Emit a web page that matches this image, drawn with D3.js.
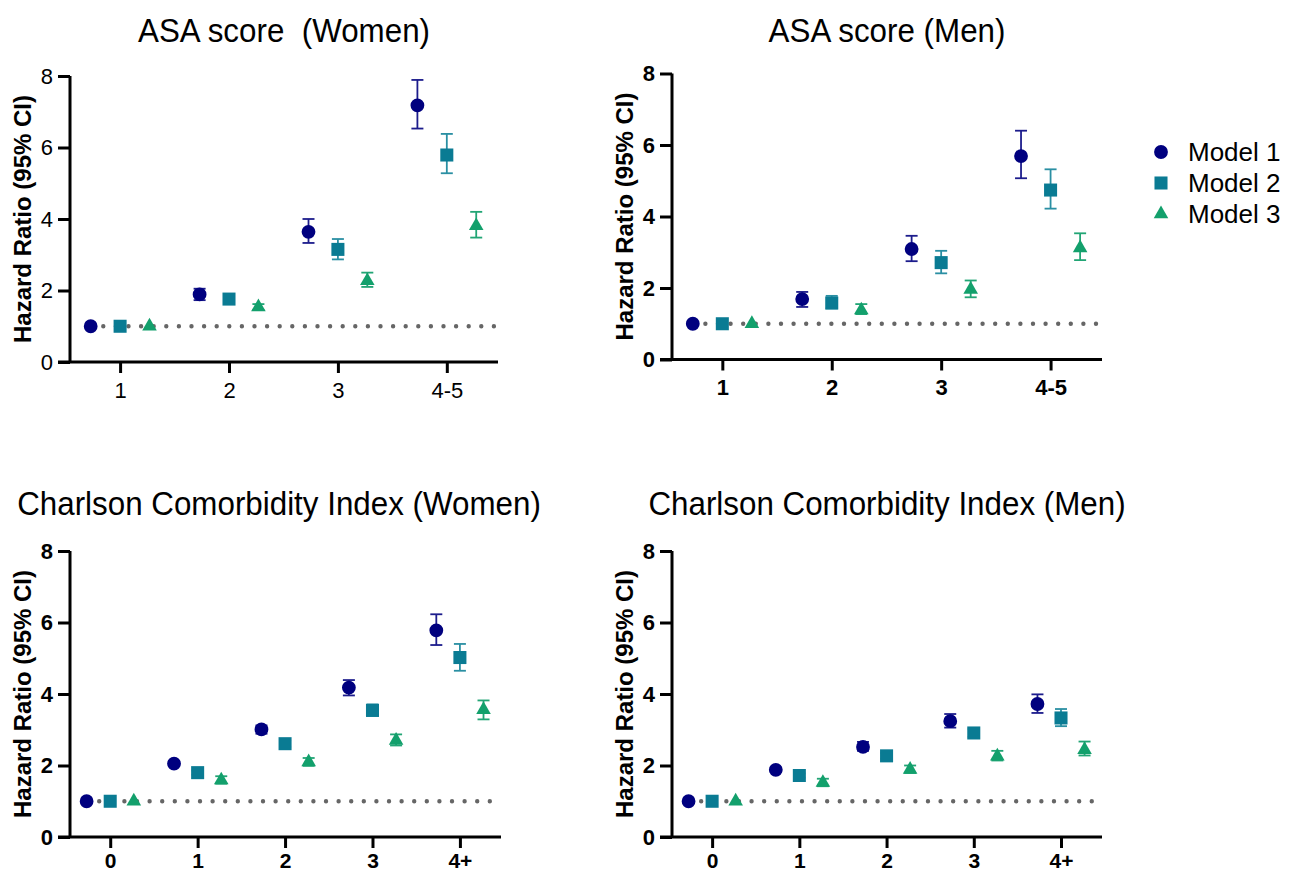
<!DOCTYPE html>
<html>
<head>
<meta charset="utf-8">
<script src="https://cdn.jsdelivr.net/npm/d3@7"></script>
<style>
  body { margin: 0; background: #fff; }
  svg { display: block; font-family: "Liberation Sans", Arial, sans-serif; }
  .title { white-space: pre; }
</style>
</head>
<body>
<svg id="chart" width="1296" height="874"></svg>
<script>
// Category labels
const asaCats = ["1", "2", "3", "4-5"];
const cciCats = ["0", "1", "2", "3", "4+"];

const modelNames = ["Model 1", "Model 2", "Model 3"];

// ASA score, women (hazard ratio, lower and upper 95% CI)
const asaWomenM1 = [1.00, 1.89, 3.64, 7.18];
const asaWomenM1Lo = [1.00, 1.73, 3.33, 6.53];
const asaWomenM1Hi = [1.00, 2.05, 4.00, 7.89];
const asaWomenM2 = [1.00, 1.76, 3.15, 5.79];
const asaWomenM2Lo = [1.00, 1.68, 2.87, 5.28];
const asaWomenM2Hi = [1.00, 1.85, 3.44, 6.38];
const asaWomenM3 = [1.00, 1.54, 2.27, 3.81];
const asaWomenM3Lo = [1.00, 1.46, 2.10, 3.48];
const asaWomenM3Hi = [1.00, 1.62, 2.50, 4.20];

// ASA score, men
const asaMenM1 = [1.00, 1.69, 3.09, 5.69];
const asaMenM1Lo = [1.00, 1.47, 2.75, 5.07];
const asaMenM1Hi = [1.00, 1.89, 3.46, 6.40];
const asaMenM2 = [1.00, 1.58, 2.71, 4.74];
const asaMenM2Lo = [1.00, 1.43, 2.41, 4.22];
const asaMenM2Hi = [1.00, 1.78, 3.04, 5.32];
const asaMenM3 = [1.00, 1.38, 1.96, 3.12];
const asaMenM3Lo = [1.00, 1.27, 1.74, 2.78];
const asaMenM3Hi = [1.00, 1.55, 2.21, 3.53];

// Charlson Comorbidity Index, women
const cciWomenM1 = [1.00, 2.05, 3.01, 4.18, 5.78];
const cciWomenM1Lo = [1.00, 1.98, 2.89, 3.96, 5.37];
const cciWomenM1Hi = [1.00, 2.12, 3.12, 4.39, 6.23];
const cciWomenM2 = [1.00, 1.80, 2.61, 3.54, 5.02];
const cciWomenM2Lo = [1.00, 1.74, 2.52, 3.40, 4.65];
const cciWomenM2Hi = [1.00, 1.86, 2.70, 3.71, 5.40];
const cciWomenM3 = [1.00, 1.59, 2.10, 2.70, 3.56];
const cciWomenM3Lo = [1.00, 1.49, 1.99, 2.56, 3.29];
const cciWomenM3Hi = [1.00, 1.70, 2.21, 2.87, 3.82];

// Charlson Comorbidity Index, men
const cciMenM1 = [1.00, 1.88, 2.52, 3.24, 3.72];
const cciMenM1Lo = [1.00, 1.82, 2.41, 3.06, 3.47];
const cciMenM1Hi = [1.00, 1.94, 2.66, 3.44, 3.99];
const cciMenM2 = [1.00, 1.72, 2.27, 2.91, 3.33];
const cciMenM2Lo = [1.00, 1.66, 2.19, 2.80, 3.10];
const cciMenM2Hi = [1.00, 1.78, 2.35, 3.02, 3.58];
const cciMenM3 = [1.00, 1.52, 1.89, 2.26, 2.44];
const cciMenM3Lo = [1.00, 1.42, 1.79, 2.14, 2.28];
const cciMenM3Hi = [1.00, 1.63, 2.00, 2.41, 2.67];

const yTicks = [0, 2, 4, 6, 8];

// marker looks per model
const fills = ["#00007f", "#0a7b93", "#13a06c"];
const whiskerColors = ["#1c1c8c", "#2a8fa3", "#22a575"];
const symbols = [d3.symbolCircle, d3.symbolSquare, d3.symbolTriangle];
const symbolSizes = [150, 170, 92];
const offsets = [-0.27, 0, 0.27];

// Panel layout (pixel boxes)
const panels = [
  { title: "ASA score  (Women)", cats: asaCats, left: 70, right: 498, top: 76, bottom: 362,
    titleX: 284, titleY: 42, bold: false, pad: 9,
    hr: [asaWomenM1, asaWomenM2, asaWomenM3], lo: [asaWomenM1Lo, asaWomenM2Lo, asaWomenM3Lo],
    hi: [asaWomenM1Hi, asaWomenM2Hi, asaWomenM3Hi] },
  { title: "ASA score (Men)", cats: asaCats, left: 672, right: 1102, top: 73.5, bottom: 359.5,
    titleX: 887, titleY: 42, bold: true, pad: 9,
    hr: [asaMenM1, asaMenM2, asaMenM3], lo: [asaMenM1Lo, asaMenM2Lo, asaMenM3Lo],
    hi: [asaMenM1Hi, asaMenM2Hi, asaMenM3Hi] },
  { title: "Charlson Comorbidity Index (Women)", cats: cciCats, left: 70, right: 501, top: 551, bottom: 837,
    titleX: 279, titleY: 515, bold: true, pad: 5,
    hr: [cciWomenM1, cciWomenM2, cciWomenM3], lo: [cciWomenM1Lo, cciWomenM2Lo, cciWomenM3Lo],
    hi: [cciWomenM1Hi, cciWomenM2Hi, cciWomenM3Hi] },
  { title: "Charlson Comorbidity Index (Men)", cats: cciCats, left: 672, right: 1102, top: 551, bottom: 837,
    titleX: 887, titleY: 515, bold: true, pad: 5,
    hr: [cciMenM1, cciMenM2, cciMenM3], lo: [cciMenM1Lo, cciMenM2Lo, cciMenM3Lo],
    hi: [cciMenM1Hi, cciMenM2Hi, cciMenM3Hi] }
];

const svg = d3.select("#chart");

panels.forEach(function(p) {
  let n = p.cats.length;
  let x = d3.scaleLinear().domain([-0.46, n - 0.53]).range([p.left, p.right]);
  let y = d3.scaleLinear().domain([0, 8]).range([p.bottom, p.top]);
  let g = svg.append("g");

  // title, slightly condensed like the original
  g.append("text")
    .attr("class", "title")
    .attr("transform", "translate(" + p.titleX + "," + p.titleY + ") scale(0.95,1)")
    .attr("text-anchor", "middle")
    .style("font-size", "33px")
    .text(p.title);

  // reference line at HR = 1
  g.append("line")
    .attr("x1", x(offsets[0]))
    .attr("x2", x(n - 0.53) - 4)
    .attr("y1", y(1))
    .attr("y2", y(1))
    .attr("stroke", "#666")
    .attr("stroke-width", 4.4)
    .attr("stroke-linecap", "round")
    .attr("stroke-dasharray", "0,12.6");

  // y axis
  let yAxis = d3.axisLeft(y).tickValues(yTicks).tickSize(12).tickPadding(5).tickFormat(d3.format("d"));
  let ya = g.append("g").attr("transform", "translate(" + p.left + ",0)").call(yAxis);

  // x axis
  let xAxis = d3.axisBottom(x).tickValues(d3.range(n)).tickSize(11).tickPadding(p.pad)
    .tickFormat(function(d) { return p.cats[d]; });
  let xa = g.append("g").attr("transform", "translate(0," + p.bottom + ")").call(xAxis);

  [ya, xa].forEach(function(a) {
    a.attr("font-size", null).attr("font-family", null);
    a.select(".domain").attr("stroke", "#000").attr("stroke-width", 3);
    a.selectAll(".tick line").attr("stroke", "#000").attr("stroke-width", 3);
    a.selectAll(".tick text")
      .attr("fill", "#000")
      .style("font-size", "22px")
      .style("font-weight", p.bold ? "bold" : "normal");
  });
  // bottom row labels sit close to the page edge
  if (p.pad < 9) xa.selectAll(".tick text").style("font-size", "21px");

  // extend the x domain line left over the y-tick overhang
  xa.select(".domain").attr("d", "M" + (p.left - 12) + ",0H" + p.right);
  ya.select(".domain").attr("d", "M0," + p.top + "V" + p.bottom);

  // y axis label
  g.append("text")
    .attr("transform", "translate(" + (p.left - 48) + "," + ((p.top + p.bottom) / 2) + ") rotate(-90)")
    .attr("text-anchor", "middle")
    .attr("dy", "0.36em")
    .style("font-size", "24px")
    .style("font-weight", "bold")
    .text("Hazard Ratio (95% CI)");

  // error bars and markers per model
  for (let m = 0; m < 3; m++) {
    let rows = p.cats.map(function(c, i) {
      return { i: i, hr: p.hr[m][i], lo: p.lo[m][i], hi: p.hi[m][i] };
    });
    let bars = g.append("g").attr("stroke", whiskerColors[m]).attr("stroke-width", 1.8);
    rows.forEach(function(d) {
      if (d.hi - d.lo < 0.01) return;
      let cx = x(d.i + offsets[m]);
      bars.append("line").attr("x1", cx).attr("x2", cx).attr("y1", y(d.lo)).attr("y2", y(d.hi));
      bars.append("line").attr("x1", cx - 6).attr("x2", cx + 6).attr("y1", y(d.lo)).attr("y2", y(d.lo));
      bars.append("line").attr("x1", cx - 6).attr("x2", cx + 6).attr("y1", y(d.hi)).attr("y2", y(d.hi));
    });
    g.append("g").selectAll("path")
      .data(rows)
      .enter()
      .append("path")
      .attr("d", d3.symbol().type(symbols[m]).size(symbolSizes[m]))
      .attr("transform", function(d) { return "translate(" + x(d.i + offsets[m]) + "," + y(d.hr) + ")"; })
      .attr("fill", fills[m]);
  }
});

// Legend
let legend = svg.append("g").attr("transform", "translate(1161,152)");
modelNames.forEach(function(name, i) {
  let row = legend.append("g").attr("transform", "translate(0," + (i * 31) + ")");
  row.append("path")
    .attr("d", d3.symbol().type(symbols[i]).size(symbolSizes[i]))
    .attr("fill", fills[i]);
  row.append("text")
    .attr("x", 27)
    .attr("dy", "0.36em")
    .style("font-size", "26px")
    .text(name);
});
</script>
</body>
</html>
